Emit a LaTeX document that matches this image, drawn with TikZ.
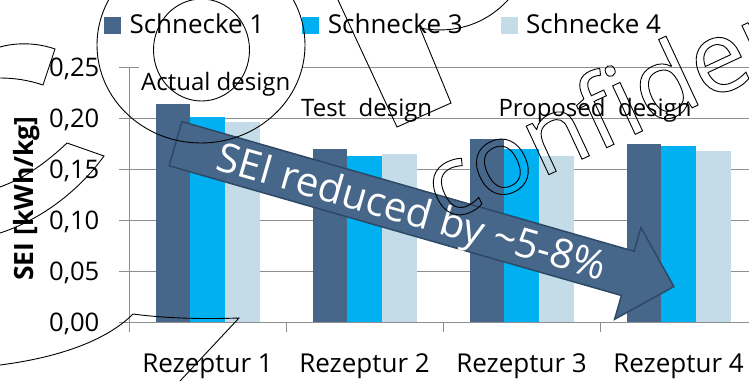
\documentclass[tikz,border=0pt]{standalone}
\usepackage{fontspec}
\setmainfont{Open Sans}
\definecolor{sdark}{HTML}{46668A}
\definecolor{sblue}{HTML}{00B0F0}
\definecolor{slight}{HTML}{C4DCE8}
\definecolor{gridgray}{HTML}{8E8E8E}
\definecolor{arrowedge}{HTML}{2E4966}
% outlined (stroked, unfilled) glyphs
\newcommand{\outlinetext}[1]{%
  \special{pdf:literal direct 1 Tr 0.9 w}#1\special{pdf:literal direct 0 Tr}}
\begin{document}
\begin{tikzpicture}[x=1pt,y=-1pt,
  gridline/.style={draw=gridgray,line width=1pt},
  ticklbl/.style={anchor=base east,inner sep=0pt,font=\fontsize{25.6}{30}\selectfont},
  catlbl/.style={anchor=base,inner sep=0pt,font=\fontsize{26}{30}\selectfont},
  leglbl/.style={anchor=base west,inner sep=0pt,font=\fontsize{26}{30}\selectfont},
  notelbl/.style={anchor=base west,inner sep=0pt,font=\fontsize{24}{28}\selectfont},
  wmline/.style={draw=black,line width=0.9pt}
]
\useasboundingbox (0,0) rectangle (749,381);
\clip (0,0) rectangle (749,381);

% horizontal gridlines with their tick stubs
\foreach \k in {1,...,5}
  \draw[gridline] (119.3,{322.3-51.05*\k}) -- (749,{322.3-51.05*\k});

% bars: dark, bright and light per recipe
\foreach \c/\a/\b/\d in {0/0.2135/0.2008/0.1965,1/0.1697/0.1626/0.1651,
                         2/0.1797/0.1697/0.1629,3/0.1746/0.1727/0.1678}{
  \pgfmathsetmacro\xs{129+157*\c+26.7}
  \fill[sdark]  (\xs,322.3) rectangle ({\xs+34.7},{322.3-1021*\a});
  \fill[sblue]  ({\xs+34.7},322.3) rectangle ({\xs+69.4},{322.3-1021*\b});
  \fill[slight] ({\xs+69.4},322.3) rectangle ({\xs+104.1},{322.3-1021*\d});
}

% axes
\draw[gridline] (129,67) -- (129,332);
\draw[gridline] (119.3,322.3) -- (749,322.3);
\foreach \xt in {286,443,600}
  \draw[gridline] (\xt,322.3) -- (\xt,332);

% tick labels
\node[ticklbl] (t0) at (99.5,331.5) {0,00};
\node[ticklbl] (t1) at (99.5,280.4) {0,05};
\node[ticklbl] (t2) at (99.5,229.4) {0,10};
\node[ticklbl] (t3) at (99.5,178.3) {0,15};
\node[ticklbl] (t4) at (99.5,127.3) {0,20};
\node[ticklbl] (t5) at (99.5,76.2) {0,25};

% axis title
\node[rotate=90,anchor=base,inner sep=0pt,font=\fontsize{26.5}{30}\selectfont\bfseries]
  (ytitle) at (33,198.5) {SEI [kWh/kg]};

% category labels
\node[catlbl] (c1) at (207.5,372.7) {Rezeptur 1};
\node[catlbl] (c2) at (364.5,372.7) {Rezeptur 2};
\node[catlbl] (c3) at (521.5,372.7) {Rezeptur 3};
\node[catlbl] (c4) at (678.5,372.7) {Rezeptur 4};

% legend
\fill[sdark]  (104,17.3) rectangle (120.7,34);
\node[leglbl] (l1) at (129.3,33.3) {Schnecke 1};
\fill[sblue]  (302.3,17.3) rectangle (319,34);
\node[leglbl] (l3) at (327.7,33.3) {Schnecke 3};
\fill[slight] (501,17.3) rectangle (517.7,34);
\node[leglbl] (l4) at (526,33.3) {Schnecke 4};

% design notes
\fill[white] (139,60) rectangle (302,97);
\node[notelbl] (n1) at (141,90.7) {Actual design};
\node[notelbl] (n2) at (301,116) {Test\ \ design};
\node[notelbl] (n3) at (498.3,116.5) {Proposed\ \ design};

% reduction arrow
\begin{scope}[shift={(175.5,143.7)},rotate=-16]
  \draw[fill=sdark,draw=arrowedge,line width=1.5pt,line join=miter]
    (0,-23) -- (470.5,-23) -- (470.5,-47.7) -- (518.4,0) -- (470.5,47.7)
    -- (470.5,23) -- (0,23) -- cycle;
  \node[transform shape,anchor=base,inner sep=0pt,text=white,
        font=\fontsize{40.5}{44}\selectfont]
    (arrowtxt) at (246,14) {SEI reduced by {\char"007E}5-8\%};
\end{scope}

% overlaid outline marks
\draw[wmline] (201,45) ellipse [x radius=104,y radius=98];
\draw[wmline] (201.5,50) ellipse [x radius=48,y radius=51];
\draw[wmline] (338,0) -- (397,127) -- (451,103) -- (420,28)
  .. controls (445,33) and (480,30) .. (508,0);
\draw[wmline] (0,47) .. controls (18,42) and (38,43) .. (55,49) -- (43,85)
  .. controls (28,80) and (14,78) .. (0,78);
\draw[wmline] (0,187) .. controls (25,178) and (47,162) .. (67,143) -- (104,156)
  .. controls (78,192) and (40,220) .. (0,233);
\draw[wmline] (0,365) .. controls (55,358) and (105,342) .. (133,314)
  .. controls (170,319) and (210,319) .. (239,318) -- (180,381);
\node[anchor=base west,inner sep=0pt,rotate=25,font=\fontsize{100}{100}\selectfont]
  (wmtext) at (443,224) {\outlinetext{conf\kern0pt idential}};
\end{tikzpicture}
\end{document}
